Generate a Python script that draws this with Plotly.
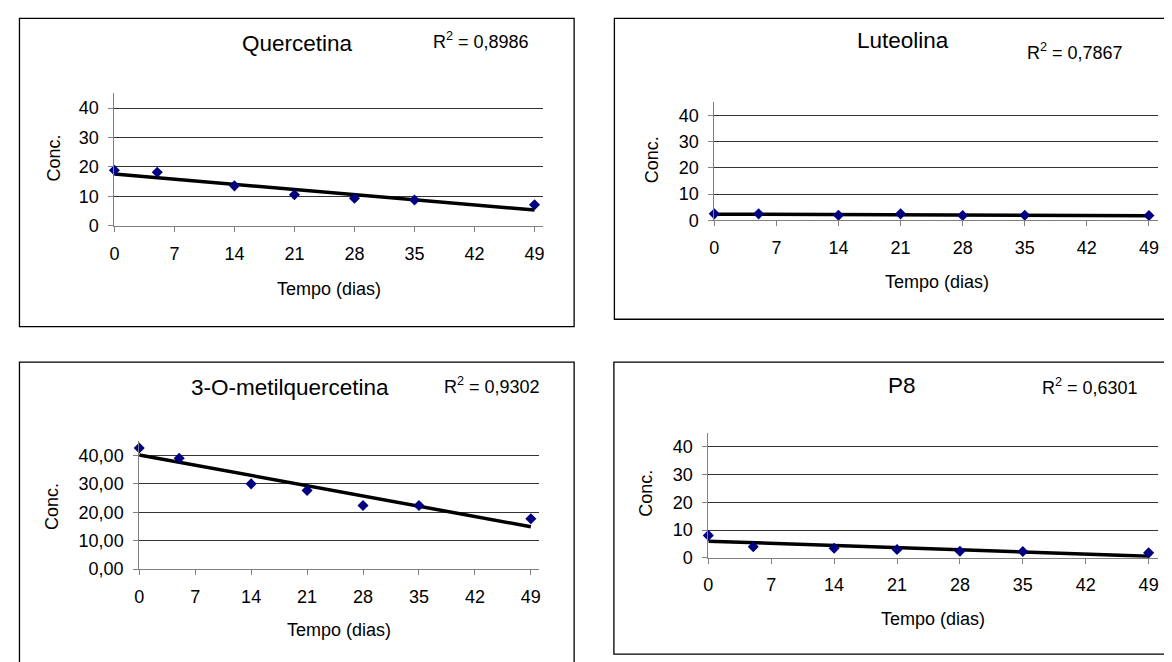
import plotly.graph_objects as go

# dados
dias = [0, 5, 14, 21, 28, 35, 49]
quercetina = [18.9, 18.2, 13.6, 10.6, 9.4, 8.8, 7.2]
luteolina = [2.5, 2.5, 2.0, 2.5, 1.9, 2.0, 1.9]
metilquercetina = [42.6, 39.0, 30.0, 27.7, 22.4, 22.4, 17.7]
p8 = [8.1, 4.0, 3.5, 3.0, 2.4, 2.3, 1.8]

# linhas de tendência (início e fim, em x = 0 e x = 49)
trend_x = [0, 49]
quercetina_trend = [17.6, 5.4]
luteolina_trend = [2.4, 1.8]
metilquercetina_trend = [40.2, 14.9]
p8_trend = [6.0, 0.6]

titulos = ["Quercetina", "Luteolina", "3-O-metilquercetina", "P8"]
r2 = ["0,8986", "0,7867", "0,9302", "0,6301"]
x_ticks = [0, 7, 14, 21, 28, 35, 42, 49]
y_ticks = [0, 10, 20, 30, 40]

W, H = 1172, 662
FONT = "Liberation Sans, Arial, sans-serif"
TXT = 18


def px(x):
    return x / W


def py(y):
    return 1 - y / H


# posições em pixels de cada painel
paineis = [
    dict(series=quercetina, trend=quercetina_trend, xd=(102, 533.3), yd=(221.3, 86.6),
         box=(6.5, 10.5, 564.5, 323.5), title=(286, 36), r2=(471, 33),
         ytitle=(41, 152), xtitle=(318, 285), fmt="d"),
    dict(series=luteolina, trend=luteolina_trend, xd=(705.5, 1151.7), yd=(215.7, 95.5),
         box=(605, 10.5, 1171.5, 316), title=(895.5, 33), r2=(1068.5, 44),
         ytitle=(642.5, 154), xtitle=(929.5, 278), fmt="d"),
    dict(series=metilquercetina, trend=metilquercetina_trend, xd=(127, 529), yd=(569.7, 439.9),
         box=(6.5, 359.5, 564.5, 700), title=(278.6, 385), r2=(482, 383),
         ytitle=(40, 506), xtitle=(328, 632), fmt=".2f"),
    dict(series=p8, trend=p8_trend, xd=(699.5, 1151.5), yd=(558.3, 431.6),
         box=(604.5, 359.5, 1171.5, 656), title=(894.5, 383), r2=(1083, 384),
         ytitle=(636.5, 492.5), xtitle=(926, 620), fmt="d"),
]

fig = go.Figure()
annotations = []
shapes = []
layout_axes = {}


def texto(t, pos, size, angle=0):
    return dict(text=t, x=px(pos[0]), y=py(pos[1]), xref="paper", yref="paper",
                xanchor="center", yanchor="middle", showarrow=False, textangle=angle,
                font=dict(family=FONT, size=size, color="black"))


for i, p in enumerate(paineis):
    n = "" if i == 0 else str(i + 1)
    xa, ya = "x" + n, "y" + n

    fig.add_trace(go.Scatter(
        x=trend_x, y=p["trend"], mode="lines",
        line=dict(color="black", width=3.5),
        xaxis=xa, yaxis=ya, showlegend=False, cliponaxis=False))
    fig.add_trace(go.Scatter(
        x=dias, y=p["series"], mode="markers",
        marker=dict(symbol="diamond", size=8.5, color="#000080"),
        xaxis=xa, yaxis=ya, showlegend=False, cliponaxis=False))

    layout_axes["xaxis" + n] = dict(
        domain=[px(p["xd"][0]), px(p["xd"][1])], range=[0, 50], anchor=ya,
        tickvals=x_ticks, showgrid=False, zeroline=False,
        showline=True, linecolor="#808080", linewidth=1,
        ticks="outside", ticklen=5, tickcolor="#808080",
        ticklabelstandoff=6,
        tickfont=dict(family=FONT, size=TXT, color="black"))
    layout_axes["yaxis" + n] = dict(
        domain=[py(p["yd"][0]), py(p["yd"][1])], range=[0, 45], anchor=xa,
        tickvals=y_ticks, tickformat=p["fmt"], showgrid=True,
        gridcolor="#333333", gridwidth=1, zeroline=False,
        showline=True, linecolor="#808080", linewidth=1,
        ticks="outside", ticklen=5, tickcolor="#808080",
        ticklabelstandoff=6,
        tickfont=dict(family=FONT, size=TXT, color="black"))

    x0, y0, x1, y1 = p["box"]
    shapes.append(dict(type="rect", xref="paper", yref="paper",
                       x0=px(x0), x1=px(x1), y0=py(y1), y1=py(y0),
                       line=dict(color="black", width=1.3)))

    annotations.append(texto(titulos[i], p["title"], 22.5))
    annotations.append(texto("R<sup>2</sup> = " + r2[i], p["r2"], TXT))
    annotations.append(texto("Conc.", p["ytitle"], TXT, -90))
    annotations.append(texto("Tempo (dias)", p["xtitle"], TXT))

fig.update_layout(
    width=W, height=H,
    margin=dict(l=0, r=0, t=0, b=0),
    plot_bgcolor="white", paper_bgcolor="white",
    separators=",.",
    annotations=annotations, shapes=shapes,
    **layout_axes
)

fig.write_html("out.html")
